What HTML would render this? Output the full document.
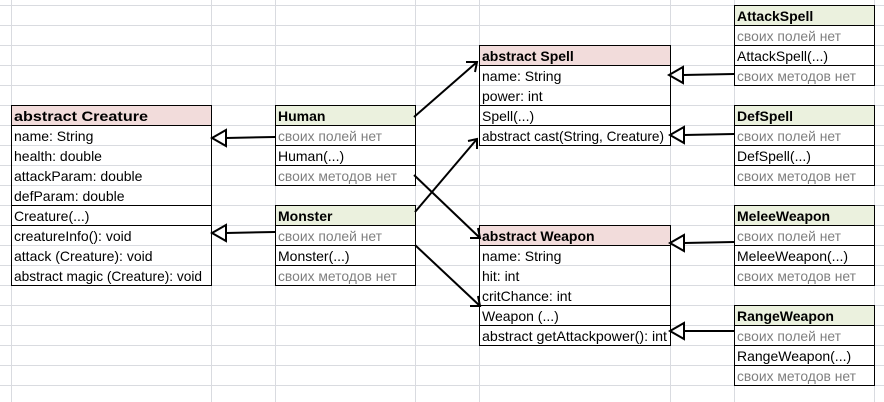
<!DOCTYPE html>
<html><head><meta charset="utf-8"><style>
html,body{margin:0;padding:0;background:#fff;width:884px;height:402px;overflow:hidden}
svg{display:block}
text{font-family:"Liberation Sans","DejaVu Sans",sans-serif;font-size:14px;fill:#000}
.g{fill:#7f7f7f}
.b{font-weight:bold}
</style></head><body>
<svg width="884" height="402" viewBox="0 0 884 402">
<g stroke="#d9dbe0" stroke-width="1">
<line x1="0" y1="5.5" x2="884" y2="5.5"/><line x1="0" y1="25.5" x2="884" y2="25.5"/><line x1="0" y1="45.5" x2="884" y2="45.5"/><line x1="0" y1="65.5" x2="884" y2="65.5"/><line x1="0" y1="85.5" x2="884" y2="85.5"/><line x1="0" y1="105.5" x2="884" y2="105.5"/><line x1="0" y1="125.5" x2="884" y2="125.5"/><line x1="0" y1="145.5" x2="884" y2="145.5"/><line x1="0" y1="165.5" x2="884" y2="165.5"/><line x1="0" y1="185.5" x2="884" y2="185.5"/><line x1="0" y1="205.5" x2="884" y2="205.5"/><line x1="0" y1="225.5" x2="884" y2="225.5"/><line x1="0" y1="245.5" x2="884" y2="245.5"/><line x1="0" y1="265.5" x2="884" y2="265.5"/><line x1="0" y1="285.5" x2="884" y2="285.5"/><line x1="0" y1="305.5" x2="884" y2="305.5"/><line x1="0" y1="325.5" x2="884" y2="325.5"/><line x1="0" y1="345.5" x2="884" y2="345.5"/><line x1="0" y1="365.5" x2="884" y2="365.5"/><line x1="0" y1="385.5" x2="884" y2="385.5"/>
<line x1="11.5" y1="0" x2="11.5" y2="402"/><line x1="211.5" y1="0" x2="211.5" y2="402"/><line x1="275.5" y1="0" x2="275.5" y2="402"/><line x1="415.5" y1="0" x2="415.5" y2="402"/><line x1="479.5" y1="0" x2="479.5" y2="402"/><line x1="670.5" y1="0" x2="670.5" y2="402"/><line x1="734.5" y1="0" x2="734.5" y2="402"/><line x1="874.5" y1="0" x2="874.5" y2="402"/>
</g>
<rect x="11" y="105" width="200" height="20" fill="#f2dcdb"/>
<rect x="479" y="45" width="191" height="20" fill="#f2dcdb"/>
<rect x="479" y="225" width="191" height="20" fill="#f2dcdb"/>
<rect x="275" y="105" width="140" height="20" fill="#ebf1de"/>
<rect x="275" y="205" width="140" height="20" fill="#ebf1de"/>
<rect x="734" y="5" width="140" height="20" fill="#ebf1de"/>
<rect x="734" y="105" width="140" height="20" fill="#ebf1de"/>
<rect x="734" y="205" width="140" height="20" fill="#ebf1de"/>
<rect x="734" y="305" width="140" height="20" fill="#ebf1de"/>
<g fill="none" stroke="#000" stroke-width="1">
<rect x="11.5" y="105.5" width="200" height="180"/>
<line x1="11" y1="125.5" x2="212" y2="125.5"/><line x1="11" y1="205.5" x2="212" y2="205.5"/><line x1="11" y1="225.5" x2="212" y2="225.5"/>
<rect x="275.5" y="105.5" width="140" height="80"/>
<line x1="275" y1="125.5" x2="416" y2="125.5"/><line x1="275" y1="145.5" x2="416" y2="145.5"/><line x1="275" y1="165.5" x2="416" y2="165.5"/>
<rect x="275.5" y="205.5" width="140" height="80"/>
<line x1="275" y1="225.5" x2="416" y2="225.5"/><line x1="275" y1="245.5" x2="416" y2="245.5"/><line x1="275" y1="265.5" x2="416" y2="265.5"/>
<rect x="479.5" y="45.5" width="191" height="100"/>
<line x1="479" y1="65.5" x2="671" y2="65.5"/><line x1="479" y1="105.5" x2="671" y2="105.5"/><line x1="479" y1="125.5" x2="671" y2="125.5"/>
<rect x="479.5" y="225.5" width="191" height="120"/>
<line x1="479" y1="245.5" x2="671" y2="245.5"/><line x1="479" y1="305.5" x2="671" y2="305.5"/><line x1="479" y1="325.5" x2="671" y2="325.5"/>
<rect x="734.5" y="5.5" width="140" height="80"/><line x1="734" y1="25.5" x2="875" y2="25.5"/><line x1="734" y1="45.5" x2="875" y2="45.5"/><line x1="734" y1="65.5" x2="875" y2="65.5"/>
<rect x="734.5" y="105.5" width="140" height="80"/><line x1="734" y1="125.5" x2="875" y2="125.5"/><line x1="734" y1="145.5" x2="875" y2="145.5"/><line x1="734" y1="165.5" x2="875" y2="165.5"/>
<rect x="734.5" y="205.5" width="140" height="80"/><line x1="734" y1="225.5" x2="875" y2="225.5"/><line x1="734" y1="245.5" x2="875" y2="245.5"/><line x1="734" y1="265.5" x2="875" y2="265.5"/>
<rect x="734.5" y="305.5" width="140" height="80"/><line x1="734" y1="325.5" x2="875" y2="325.5"/><line x1="734" y1="345.5" x2="875" y2="345.5"/><line x1="734" y1="365.5" x2="875" y2="365.5"/>
</g>
<g stroke="#000" stroke-width="2" fill="#fff">
<line x1="275" y1="137" x2="226" y2="138"/><polygon points="212,138 226,130 226,146"/>
<line x1="275" y1="232" x2="226" y2="233"/><polygon points="212,233 226,225 226,241"/>
<line x1="734" y1="74" x2="683" y2="75"/><polygon points="669,75 683,67 683,83"/>
<line x1="734" y1="134" x2="684" y2="135"/><polygon points="670,135 684,127 684,143"/>
<line x1="734" y1="242" x2="684" y2="243"/><polygon points="670,243 684,235 684,251"/>
<line x1="734" y1="331" x2="684" y2="331"/><polygon points="670,331 684,323 684,339"/>
</g>
<g stroke="#000" stroke-width="2" fill="none">
<line x1="414" y1="117" x2="477" y2="62"/><polyline points="466,62 477,62 475,72"/>
<line x1="414" y1="175" x2="480" y2="238"/><polyline points="470,238 480,238 478,228"/>
<line x1="415" y1="212" x2="477" y2="139"/><polyline points="468,141 477,139 477,149"/>
<line x1="415" y1="245" x2="480" y2="306"/><polyline points="470,306 480,306 478,296"/>
</g>
<text x="14" y="121" class="b" textLength="134" lengthAdjust="spacingAndGlyphs">abstract Creature</text>
<text x="14" y="141">name: String</text>
<text x="14" y="161">health: double</text>
<text x="14" y="181">attackParam: double</text>
<text x="14" y="201">defParam: double</text>
<text x="14" y="221">Creature(...)</text>
<text x="14" y="241">creatureInfo(): void</text>
<text x="14" y="261">attack (Creature): void</text>
<text x="14" y="281" textLength="188" lengthAdjust="spacingAndGlyphs">abstract magic (Creature): void</text>

<text x="278" y="121" class="b">Human</text>
<text x="278" y="141" class="g" textLength="104" lengthAdjust="spacingAndGlyphs">своих полей нет</text>
<text x="278" y="161">Human(...)</text>
<text x="278" y="181" class="g" textLength="119" lengthAdjust="spacingAndGlyphs">своих методов нет</text>

<text x="278" y="221" class="b">Monster</text>
<text x="278" y="241" class="g" textLength="104" lengthAdjust="spacingAndGlyphs">своих полей нет</text>
<text x="278" y="261">Monster(...)</text>
<text x="278" y="281" class="g" textLength="119" lengthAdjust="spacingAndGlyphs">своих методов нет</text>

<text x="482" y="61" class="b">abstract Spell</text>
<text x="482" y="81">name: String</text>
<text x="482" y="101">power: int</text>
<text x="482" y="121">Spell(...)</text>
<text x="482" y="141" textLength="182" lengthAdjust="spacingAndGlyphs">abstract cast(String, Creature)</text>

<text x="482" y="241" class="b">abstract Weapon</text>
<text x="482" y="261">name: String</text>
<text x="482" y="281">hit: int</text>
<text x="482" y="301">critChance: int</text>
<text x="482" y="321">Weapon (...)</text>
<text x="482" y="341" textLength="185" lengthAdjust="spacingAndGlyphs">abstract getAttackpower(): int</text>

<text x="737" y="21" class="b">AttackSpell</text>
<text x="737" y="41" class="g" textLength="104" lengthAdjust="spacingAndGlyphs">своих полей нет</text>
<text x="737" y="61">AttackSpell(...)</text>
<text x="737" y="81" class="g" textLength="119" lengthAdjust="spacingAndGlyphs">своих методов нет</text>

<text x="737" y="121" class="b">DefSpell</text>
<text x="737" y="141" class="g" textLength="104" lengthAdjust="spacingAndGlyphs">своих полей нет</text>
<text x="737" y="161">DefSpell(...)</text>
<text x="737" y="181" class="g" textLength="119" lengthAdjust="spacingAndGlyphs">своих методов нет</text>

<text x="737" y="221" class="b">MeleeWeapon</text>
<text x="737" y="241" class="g" textLength="104" lengthAdjust="spacingAndGlyphs">своих полей нет</text>
<text x="737" y="261">MeleeWeapon(...)</text>
<text x="737" y="281" class="g" textLength="119" lengthAdjust="spacingAndGlyphs">своих методов нет</text>

<text x="737" y="321" class="b">RangeWeapon</text>
<text x="737" y="341" class="g" textLength="104" lengthAdjust="spacingAndGlyphs">своих полей нет</text>
<text x="737" y="361">RangeWeapon(...)</text>
<text x="737" y="381" class="g" textLength="119" lengthAdjust="spacingAndGlyphs">своих методов нет</text>
</svg>
</body></html>
